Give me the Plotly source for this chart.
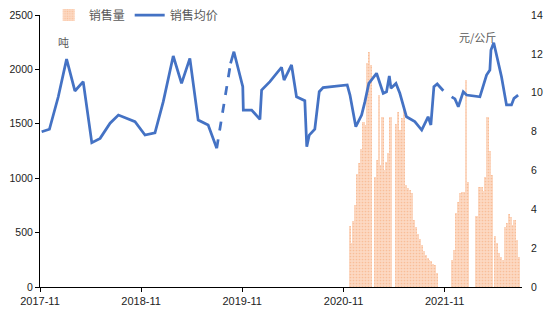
import plotly.graph_objects as go
import pandas as pd

# ---- data ----
price_dates = [
    "2017-11-07", "2017-12-05", "2018-01-06", "2018-02-05", "2018-03-07", "2018-04-06",
    "2018-05-07", "2018-06-06", "2018-07-12", "2018-08-11", "2018-10-10", "2018-11-15",
    "2018-12-21", "2019-01-20", "2019-02-25", "2019-03-27", "2019-04-26", "2019-05-26",
    "2019-07-01", "2019-08-01", "2019-08-01", "2019-09-20", "2019-10-02", "2019-11-03",
    "2019-11-05", "2019-12-05", "2020-01-04", "2020-01-10", "2020-02-09", "2020-03-22",
    "2020-03-31", "2020-04-27", "2020-05-15", "2020-06-14", "2020-06-21", "2020-06-30",
    "2020-07-20", "2020-08-05", "2020-08-19", "2020-11-14", "2020-11-24", "2020-12-15",
    "2021-01-05", "2021-01-17", "2021-01-31", "2021-02-28", "2021-03-24", "2021-04-05",
    "2021-04-15", "2021-04-21", "2021-05-09", "2021-05-23", "2021-06-16", "2021-07-16",
    "2021-08-10", "2021-09-02", "2021-09-12", "2021-09-23", "2021-10-05", "2021-10-27",
    "2021-10-27", "2021-11-26", "2021-12-08", "2021-12-20", "2022-01-07", "2022-01-19",
    "2022-03-08", "2022-04-01", "2022-04-13", "2022-04-17", "2022-04-27", "2022-05-25",
    "2022-06-12", "2022-06-30", "2022-07-09", "2022-07-24",
]
price_values = [
    7.99, 8.12, 9.79, 11.73, 10.09, 10.57,
    7.43, 7.65, 8.43, 8.85, 8.51, 7.82,
    7.94, 9.54, 11.89, 10.48, 11.77, 8.59,
    8.34, 7.14, None, 11.51, 12.11, 10.31,
    9.11, 9.11, 8.63, 10.14, 10.57, 11.31,
    10.65, 11.43, 9.79, 9.59, 7.22, 7.82,
    8.12, 10.05, 10.26, 10.40, 9.88, 8.25,
    8.85, 9.54, 10.48, 11.00, 9.97, 10.05,
    10.86, 10.23, 10.48, 9.97, 8.76, 8.51,
    8.08, 8.76, 8.34, 10.31, 10.45, 10.10,
    None, 9.79, 9.68, 9.28, 10.05, 9.88,
    9.79, 10.91, 11.17, 12.20, 12.57, 10.82,
    9.37, 9.37, 9.71, 9.88,
]

volume_start = "2020-11-24"  # weekly series
volume_values = [
    560, 400, 610, 750, 1040, 1140, 1270, 1520, 1490, 2060, 2160, 2040, 0, 1010, 1170, 1765,
    1120, 1560, 1075, 1150, 1230, 1560, 0, 0, 1500, 1610, 1440, 1550, 1640, 940, 910, 890,
    860, 620, 550, 490, 440, 390, 330, 295, 265, 250, 235, 215, 200, 125,
    0, 0, 0, 0, 0, 0, 0,
    248, 340, 683, 784, 861, 876, 876, 1903, 968, 0, 0, 0, 653, 653, 916, 916, 885, 1008,
    1560, 1253, 1029, 0, 469, 400, 315, 279, 248, 554, 585, 671, 640, 570, 616, 432, 279,
]
volume_dates = pd.date_range(volume_start, periods=len(volume_values), freq="7D")

tick_dates = ["2017-11-01", "2018-11-01", "2019-11-01", "2020-11-01", "2021-11-01"]
tick_labels = ["2017-11", "2018-11", "2019-11", "2020-11", "2021-11"]

# ---- figure ----
fig = go.Figure()
fig.add_trace(go.Bar(
    x=volume_dates, y=volume_values, name="销售量", yaxis="y",
    marker=dict(color="#F8CBAD", line=dict(width=0),
                pattern=dict(shape=".", fgcolor="#F5A36E", bgcolor="#FCD8C2",
                             size=3, solidity=0.25, fillmode="overlay")),
))
fig.add_trace(go.Scatter(
    x=price_dates, y=price_values, name="销售均价", yaxis="y2", mode="lines",
    connectgaps=False, line=dict(color="#4472C4", width=2.75),
))
# dashed bridge over first gap
gi = price_values.index(None)
fig.add_trace(go.Scatter(
    x=[price_dates[gi - 1], price_dates[gi + 1]],
    y=[price_values[gi - 1], price_values[gi + 1]],
    yaxis="y2", mode="lines", showlegend=False,
    line=dict(color="#4472C4", width=2.75, dash="dash"),
))

base_font = "Liberation Sans, Arial, Noto Sans CJK SC"
fig.update_layout(
    width=549, height=311,
    margin=dict(l=40, r=27, t=15, b=24, autoexpand=False),
    paper_bgcolor="white", plot_bgcolor="white",
    bargap=0,
    font=dict(family=base_font, size=11, color="#222222"),
    xaxis=dict(type="date", range=["2017-11-01", "2022-08-07"],
               tickvals=tick_dates, ticktext=tick_labels,
               ticks="outside", ticklen=4, tickcolor="black",
               showline=True, linecolor="black", linewidth=1,
               showgrid=False, zeroline=False, automargin=False,
               tickfont=dict(size=11, color="#222222")),
    yaxis=dict(range=[0, 2500], tickvals=[0, 500, 1000, 1500, 2000, 2500],
               ticks="outside", ticklen=4, tickcolor="black",
               showline=True, linecolor="black", linewidth=1,
               showgrid=False, zeroline=False, automargin=False,
               tickfont=dict(size=10.5, color="#222222")),
    yaxis2=dict(range=[0, 14], tickvals=[0, 2, 4, 6, 8, 10, 12, 14],
                overlaying="y", side="right", showgrid=False, zeroline=False,
                showline=False, ticks="outside", ticklen=6,
                tickcolor="rgba(0,0,0,0)", automargin=False,
                tickfont=dict(size=10.5, color="#222222")),
    legend=dict(orientation="h", x=0.018, y=1.0, xanchor="left", yanchor="middle",
                bgcolor="rgba(0,0,0,0)", itemwidth=30, tracegroupgap=0,
                font=dict(family="Noto Sans CJK SC", size=12, color="#595959")),
    annotations=[
        dict(text="吨", x=0.033, y=0.9375, xref="paper", yref="paper",
             showarrow=False, font=dict(family="Noto Sans CJK SC", size=11, color="#595959")),
        dict(text="元/公斤", x=0.95, y=0.956, xref="paper", yref="paper",
             showarrow=False, font=dict(family="Noto Sans CJK SC", size=11, color="#595959")),
    ],
)

fig.write_html("out.html")
